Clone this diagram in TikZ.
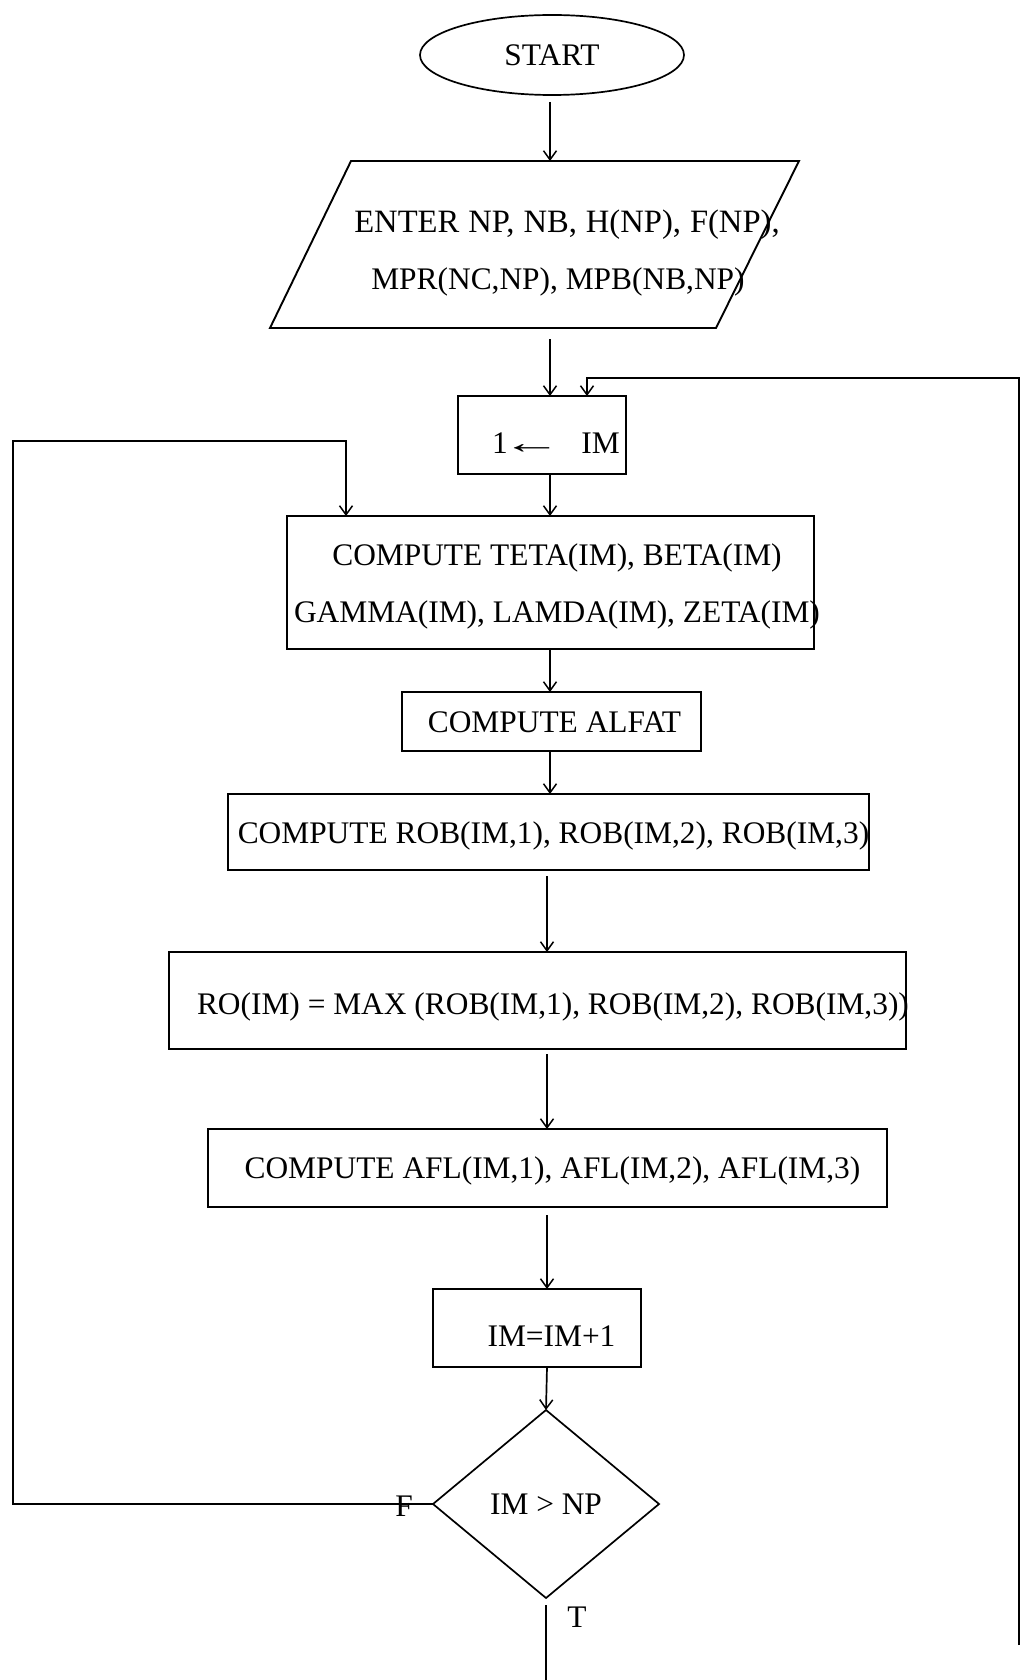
\documentclass[tikz,border=0pt]{standalone}
\usepackage{fontspec}
\usepackage{graphicx}
\setmainfont{Liberation Serif}
\usetikzlibrary{arrows.meta,shapes.geometric}
\begin{document}
\begin{tikzpicture}[x=1pt,y=-1pt,
  every node/.style={inner sep=0pt, outer sep=0pt},
  lbl/.style={font=\fontsize{31.4}{37}\selectfont, text height=21pt, text depth=0pt},
  ln/.style={line width=1.7pt},
  box/.style={draw, rectangle, line width=1.9pt},
  arr/.style={ln, -{Straight Barb[length=9pt,width=13pt,line width=1.5pt]}},
]
\useasboundingbox (0,0) rectangle (1022,1680);

% column positions of the vertical connectors
\coordinate (c1) at (550,0);
\coordinate (c2) at (547,0);

% start terminal
\node[draw, ellipse, ln, minimum width=264pt, minimum height=80pt, lbl] (start) at (552,55) {START};

% input parallelogram
\coordinate (p1) at (270,328);
\coordinate (p2) at (716,328);
\coordinate (p3) at (799,161);
\coordinate (p4) at (351,161);
\draw[line width=1.9pt] (p1) -- (p2) -- (p3) -- (p4) -- cycle;
\coordinate (intop) at (550,161);
\coordinate (inbot) at (550,328);
\node[lbl, font=\fontsize{32.6}{37}\selectfont] (in1) at (567,222) {ENTER\hspace{9pt}NP,\hspace{9pt}NB,\hspace{9pt}H(NP),\hspace{9pt}F(NP),};
\node[lbl] (in2) at (558,279) {MPR(NC,NP), MPB(NB,NP)};

% process boxes
\node[box, minimum width=168pt, minimum height=78pt] (init) at (542,435) {};
\node[lbl] (initt) at (556,443) {1\hspace{-6pt}\scalebox{1.9}[1]{←}\hspace{20pt}IM};

\node[box, minimum width=527pt, minimum height=133pt] (calc1) at (550.5,582.5) {};
\node[lbl] (calc1a) at (557,555) {COMPUTE TETA(IM), BETA(IM)};
\node[lbl] (calc1b) at (557,612) {GAMMA(IM), LAMDA(IM), ZETA(IM)};

\node[box, minimum width=299pt, minimum height=59pt] (alfat) at (551.5,721.5) {};
\node[lbl] (alfatt) at (554.5,722) {COMPUTE ALFAT};

\node[box, minimum width=641pt, minimum height=76pt] (rob) at (548.5,832) {};
\node[lbl] (robt) at (553.5,833) {COMPUTE ROB(IM,1), ROB(IM,2), ROB(IM,3)};

\node[box, minimum width=737pt, minimum height=97pt] (ro) at (537.5,1000.5) {};
\node[lbl] (rot) at (553,1004) {RO(IM) = MAX (ROB(IM,1), ROB(IM,2), ROB(IM,3))};

\node[box, minimum width=679pt, minimum height=78pt] (afl) at (547.5,1168) {};
\node[lbl] (aflt) at (552.5,1168) {COMPUTE AFL(IM,1), AFL(IM,2), AFL(IM,3)};

\node[box, minimum width=208pt, minimum height=78pt] (inc) at (537,1328) {};
\node[lbl] (inct) at (551.5,1336) {IM=IM+1};

% decision
\node[draw, diamond, ln, minimum width=226pt, minimum height=188pt, lbl] (dec) at (546,1504) {IM > NP};
\node[lbl] (flab) at (404,1506) {F};
\node[lbl] (tlab) at (577,1617) {T};

% main flow
\draw[arr, shorten <=7pt] (start.south -| c1) -- (intop);
\draw[arr, shorten <=11pt] (inbot) -- (init.north -| c1);
\draw[arr] (init.south -| c1) -- (calc1.north -| c1);
\draw[arr] (calc1.south -| c1) -- (alfat.north -| c1);
\draw[arr] (alfat.south -| c1) -- (rob.north -| c1);
\draw[arr, shorten <=6pt] (rob.south -| c2) -- (ro.north -| c2);
\draw[arr, shorten <=5pt] (ro.south -| c2) -- (afl.north -| c2);
\draw[arr, shorten <=8pt] (afl.south -| c2) -- (inc.north -| c2);
\draw[arr] (inc.south -| c2) -- (dec.north);

% false branch loops back
\coordinate (lx) at (13,441);
\draw[arr] (dec.west) -| (lx) -| ([xshift=-204.5pt]calc1.north);

% incoming return line on the right
\coordinate (rend) at (1019,1645);
\draw[arr] (rend) |- ([xshift=45pt,yshift=18pt]init.north) -- ([xshift=45pt]init.north);

% true branch leaves downward
\coordinate (fend) at (546,1680);
\draw[ln, shorten <=7pt] (dec.south) -- (fend);
\end{tikzpicture}
\end{document}
